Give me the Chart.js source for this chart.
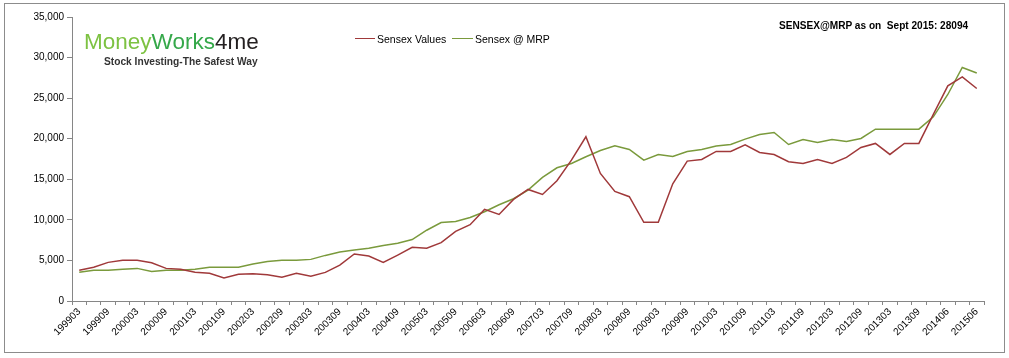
<!DOCTYPE html>
<html lang="en">
<head>
    <meta charset="UTF-8">
    <title>Sensex vs Sensex @ MRP</title>
    <script src="https://cdn.jsdelivr.net/npm/chart.js"></script>
    <style>
        body { margin: 0; background: #fff; font-family: "Liberation Sans", Arial, sans-serif; }
        #wrap { position: relative; width: 1009px; height: 358px; }
        #frame { position: absolute; left: 4px; top: 3px; width: 999px; height: 348px; border: 1px solid #8c8c8c; }
        canvas { position: absolute; left: 0; top: 0; }
        .txt { position: absolute; white-space: nowrap; line-height: 14px; color: #000; }
        .logo { position: absolute; left: 84px; top: 31px; font-size: 22.5px; line-height: 22px; white-space: nowrap; }
        .tag { left: 104px; top: 55px; font-size: 10.2px; font-weight: bold; color: #333; }
        .leg { font-size: 10.5px; }
        .legline { position: absolute; height: 0; border-top: 1.5px solid; }
    </style>
</head>
<body>
<div id="wrap">
    <canvas id="sensexChart" width="1009" height="358"></canvas>
    <div id="frame"></div>
    <div class="logo"><span style="color:#7dc242">Money</span><span style="color:#35a84a">Works</span><span style="color:#231f20">4me</span></div>
    <div class="txt tag">Stock Investing-The Safest Way</div>
    <div class="legline" style="left:355px; top:38px; width:20px; border-color:#a0393a"></div>
    <div class="txt leg" style="left:377px; top:32px;">Sensex Values</div>
    <div class="legline" style="left:452px; top:38px; width:21px; border-color:#7a9a3c"></div>
    <div class="txt leg" style="left:475px; top:32px;">Sensex @ MRP</div>
    <div class="txt" style="left:779px; top:19px; font-size:10.1px; font-weight:bold;">SENSEX@MRP as on&nbsp; Sept 2015: 28094</div>
</div>

<script>
    // quarter labels (only every other one is printed on the axis)
    const quarters = [
        "199903", "199906", "199909", "199912",
        "200003", "200006", "200009", "200012",
        "200103", "200106", "200109", "200112",
        "200203", "200206", "200209", "200212",
        "200303", "200306", "200309", "200312",
        "200403", "200406", "200409", "200412",
        "200503", "200506", "200509", "200512",
        "200603", "200606", "200609", "200612",
        "200703", "200706", "200709", "200712",
        "200803", "200806", "200809", "200812",
        "200903", "200906", "200909", "200912",
        "201003", "201006", "201009", "201012",
        "201103", "201106", "201109", "201112",
        "201203", "201206", "201209", "201212",
        "201303", "201306", "201309", "201403",
        "201406", "201412", "201506"
    ];

    const sensexValues = [
        3780, 4150, 4760, 5010, 5010, 4720, 4020, 3900, 3530, 3410,
        2830, 3290, 3360, 3240, 2920, 3410, 3040, 3530, 4430, 5800,
        5550, 4760, 5660, 6610, 6510, 7200, 8580, 9400, 11290, 10670,
        12520, 13750, 13130, 14820, 17360, 20240, 15720, 13500, 12850, 9690,
        9690, 14450, 17240, 17450, 18430, 18430, 19250, 18310, 18060, 17160,
        16950, 17450, 16950, 17690, 18920, 19420, 18060, 19420, 19420, 22990,
        26520, 27630, 26190
    ];

    const sensexMRP = [
        3530, 3780, 3780, 3900, 4020, 3650, 3780, 3780, 3900, 4150,
        4150, 4150, 4560, 4880, 5010, 5010, 5130, 5620, 6030, 6280,
        6500, 6850, 7120, 7570, 8720, 9670, 9810, 10300, 11000, 11860,
        12600, 13670, 15230, 16420, 16950, 17780, 18550, 19130, 18680, 17360,
        18060, 17820, 18430, 18680, 19090, 19290, 19950, 20520, 20770, 19290,
        19910, 19540, 19910, 19660, 20030, 21180, 21180, 21180, 21180, 22700,
        25450, 28780, 28094
    ];

    const axisFont = { family: "'Liberation Sans', Arial, sans-serif", size: 10 };

    new Chart(document.getElementById("sensexChart"), {
        type: "line",
        data: {
            labels: quarters,
            datasets: [{
                label: "Sensex Values",
                data: sensexValues,
                borderColor: "#a0393a",
                borderWidth: 1.5,
                pointRadius: 0,
                tension: 0
            }, {
                label: "Sensex @ MRP",
                data: sensexMRP,
                borderColor: "#7a9a3c",
                borderWidth: 1.5,
                pointRadius: 0,
                tension: 0
            }]
        },
        options: {
            responsive: false,
            animation: false,
            layout: { padding: { left: 0, top: 17, right: 25, bottom: 0 } },
            plugins: { legend: { display: false }, tooltip: { enabled: false } },
            scales: {
                x: {
                    offset: true,
                    grid: { offset: true, drawOnChartArea: false, drawTicks: true, tickLength: 4, color: "#868686" },
                    border: { color: "#868686", width: 1 },
                    ticks: {
                        autoSkip: false,
                        maxRotation: 45,
                        minRotation: 45,
                        padding: 1,
                        color: "#000",
                        font: axisFont,
                        callback: function (val, idx) {
                            return idx % 2 === 0 ? this.getLabelForValue(val) : "";
                        }
                    },
                    afterFit: function (scale) { scale.height = 57; }
                },
                y: {
                    min: 0,
                    max: 35000,
                    grid: { drawOnChartArea: false, drawTicks: true, tickLength: 5, color: "#868686" },
                    border: { color: "#868686", width: 1 },
                    ticks: {
                        stepSize: 5000,
                        padding: 3,
                        color: "#000",
                        font: axisFont,
                        callback: v => v.toLocaleString("en-US")
                    },
                    afterFit: function (scale) { scale.width = 72; }
                }
            }
        }
    });
</script>
</body>
</html>
